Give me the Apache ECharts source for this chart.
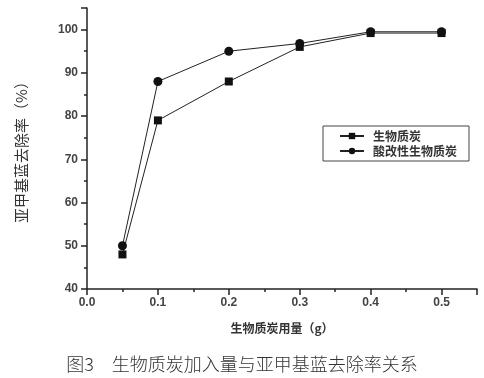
<!DOCTYPE html>
<html>
<head>
<meta charset="utf-8">
<script src="https://cdn.jsdelivr.net/npm/echarts@6/dist/echarts.min.js"></script>
<style>
  html, body { margin: 0; padding: 0; background: #fff; }
  #chart { width: 484px; height: 378px; }
</style>
</head>
<body>
<div id="chart"></div>
<script>
// 生物质炭用量 (g)
const dosage = [0.05, 0.1, 0.2, 0.3, 0.4, 0.5];
// 去除率 (%)
const biochar = [48, 79, 88, 96, 99.2, 99.2];
const acidBiochar = [50, 88, 95, 96.8, 99.5, 99.5];
const seriesNames = ["生物质炭", "酸改性生物质炭"];

const fontFamily = "'Liberation Sans', 'Noto Sans CJK SC', sans-serif";
const cjkFont = "'Noto Sans CJK SC', sans-serif";
const lineColor = "#222";

const chart = echarts.init(document.getElementById("chart"));

const option = {
  backgroundColor: "#fff",
  animation: false,
  textStyle: { fontFamily: fontFamily },
  title: {
    text: "图3　生物质炭加入量与亚甲基蓝去除率关系",
    left: "center",
    top: 350,
    textStyle: {
      fontFamily: cjkFont,
      fontSize: 18,
      fontWeight: 300,
      color: "#333"
    }
  },
  legend: {
    orient: "vertical",
    left: 323,
    top: 126,
    padding: [4, 12, 4, 16],
    itemGap: 3,
    itemWidth: 24,
    itemHeight: 8,
    borderColor: "#444",
    borderWidth: 1,
    borderRadius: 0,
    textStyle: {
      fontSize: 12,
      fontWeight: "bold",
      color: "#333",
      fontFamily: cjkFont,
      padding: [0, 0, 0, 4]
    },
    data: seriesNames
  },
  grid: {
    left: 87,
    right: 7,
    top: 8,
    bottom: 89,
    containLabel: false
  },
  xAxis: {
    type: "value",
    min: 0,
    max: 0.55,
    interval: 0.1,
    name: "生物质炭用量（g）",
    nameLocation: "middle",
    nameGap: 33,
    nameTextStyle: {
      fontSize: 12,
      fontWeight: "bold",
      color: "#333",
      fontFamily: cjkFont
    },
    axisLine: { lineStyle: { color: lineColor, width: 1.5 } },
    axisTick: { show: true, length: 6, lineStyle: { color: lineColor, width: 1.5 } },
    minorTick: { show: true, splitNumber: 2, length: 3, lineStyle: { color: lineColor, width: 1.5 } },
    splitLine: { show: false },
    axisLabel: {
      fontSize: 12,
      fontWeight: "bold",
      color: "#444",
      margin: 8,
      formatter: v => v.toFixed(1),
      showMaxLabel: false
    }
  },
  yAxis: {
    type: "value",
    min: 40,
    max: 105,
    interval: 10,
    name: "亚甲基蓝去除率（%）",
    nameLocation: "middle",
    nameRotate: 90,
    nameGap: 58,
    nameTextStyle: {
      fontSize: 15,
      color: "#333",
      fontFamily: cjkFont
    },
    axisLine: { lineStyle: { color: lineColor, width: 1.5 } },
    axisTick: { show: true, length: 6, lineStyle: { color: lineColor, width: 1.5 } },
    minorTick: { show: true, splitNumber: 2, length: 3, lineStyle: { color: lineColor, width: 1.5 } },
    splitLine: { show: false },
    axisLabel: {
      fontSize: 12,
      fontWeight: "bold",
      color: "#444",
      margin: 9,
      showMaxLabel: false
    }
  },
  series: [
    {
      name: seriesNames[0],
      type: "line",
      data: dosage.map((x, i) => [x, biochar[i]]),
      symbol: "rect",
      symbolSize: 8,
      lineStyle: { color: lineColor, width: 1 },
      itemStyle: { color: "#111" }
    },
    {
      name: seriesNames[1],
      type: "line",
      data: dosage.map((x, i) => [x, acidBiochar[i]]),
      symbol: "circle",
      symbolSize: 9,
      lineStyle: { color: lineColor, width: 1 },
      itemStyle: { color: "#111" }
    }
  ]
};

chart.setOption(option);
</script>
</body>
</html>
